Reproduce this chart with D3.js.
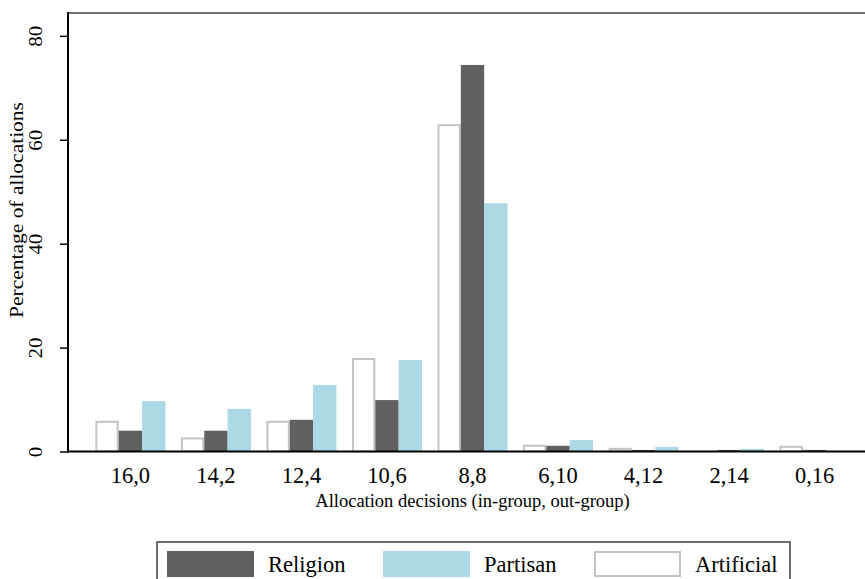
<!DOCTYPE html>
<html>
<head>
<meta charset="utf-8">
<script src="https://cdn.jsdelivr.net/npm/d3@7"></script>
<style>
  body { margin: 0; background: #fff; }
  svg { display: block; font-family: "Liberation Serif", "DejaVu Serif", serif; }
</style>
</head>
<body>
<div id="viz"></div>
<script>
// categories and series
var categories = ['16,0', '14,2', '12,4', '10,6', '8,8', '6,10', '4,12', '2,14', '0,16'];
var series = ['Artificial', 'Religion', 'Partisan'];
var artificial = [5.9, 2.7, 5.9, 18.0, 63.0, 1.3, 0.7, 0.1, 1.1];
var religion = [4.0, 4.0, 6.1, 9.9, 74.4, 1.1, 0.3, 0.3, 0.3];
var partisan = [9.7, 8.2, 12.8, 17.6, 47.8, 2.2, 0.9, 0.5, 0.0];
var yTicks = [0, 20, 40, 60, 80];
var legendOrder = ['Religion', 'Partisan', 'Artificial'];

var values = { Artificial: artificial, Religion: religion, Partisan: partisan };
var fills = { Artificial: '#ffffff', Religion: '#606060', Partisan: '#add8e6' };
var strokes = { Artificial: '#c4c4c4', Religion: 'none', Partisan: 'none' };

var width = 865, height = 579;
// plot region (right edge runs past the window, as in the picture)
var plotLeft = 68, plotRight = 877, plotTop = 13, plotBottom = 451.5;

var svg = d3.select('#viz').append('svg')
  .attr('width', width)
  .attr('height', height);

// scales
var x0 = d3.scaleBand().domain(categories).range([plotLeft, plotRight])
  .paddingInner(0.181).paddingOuter(0.32);
var x1 = d3.scaleBand().domain(series).range([0, x0.bandwidth()]);
var y = d3.scaleLinear().domain([0, 84.4]).range([plotBottom, plotTop]);

// top border of plot region
svg.append('line')
  .attr('x1', plotLeft).attr('x2', plotRight)
  .attr('y1', plotTop).attr('y2', plotTop)
  .attr('stroke', '#707070').attr('stroke-width', 2);

// bars
var groups = svg.selectAll('.group')
  .data(categories)
  .enter().append('g')
  .attr('class', 'group')
  .attr('transform', function (d) { return 'translate(' + x0(d) + ',0)'; });

groups.selectAll('rect')
  .data(function (d, i) {
    return series.map(function (s) { return { s: s, v: values[s][i] }; });
  })
  .enter().append('rect')
  .attr('x', function (d) { return x1(d.s) + (d.s == 'Artificial' ? 1 : 0); })
  .attr('width', function (d) { return x1.bandwidth() - (d.s == 'Artificial' ? 2 : 0); })
  .attr('y', function (d) { return y(d.v) + (d.s == 'Artificial' ? 1 : 0); })
  .attr('height', function (d) { return Math.max(0, plotBottom - y(d.v) - (d.s == 'Artificial' ? 1 : 0)); })
  .attr('fill', function (d) { return fills[d.s]; })
  .attr('stroke', function (d) { return strokes[d.s]; })
  .attr('stroke-width', 2);

// y axis, labels turned on their side
var yAxis = svg.append('g')
  .attr('transform', 'translate(' + plotLeft + ',0)')
  .call(d3.axisLeft(y).tickValues(yTicks).tickSize(8));
yAxis.select('.domain').remove();
yAxis.selectAll('.tick line').attr('stroke', '#000').attr('stroke-width', 1.5);
yAxis.selectAll('.tick text')
  .attr('font-size', 21)
  .attr('fill', '#000')
  .attr('font-family', '"Liberation Serif", serif')
  .attr('x', 0).attr('y', 0).attr('dy', null)
  .attr('text-anchor', 'middle')
  .attr('transform', 'translate(-26,0) rotate(-90) scale(1,0.85)');

svg.append('line')
  .attr('x1', plotLeft).attr('x2', plotLeft)
  .attr('y1', plotTop - 1).attr('y2', plotBottom + 1)
  .attr('stroke', '#000').attr('stroke-width', 2);

// x axis (labels only, no tick marks)
var xAxis = svg.append('g')
  .attr('transform', 'translate(0,' + plotBottom + ')')
  .call(d3.axisBottom(x0).tickSize(0).tickPadding(16));
xAxis.select('.domain').remove();
xAxis.selectAll('.tick text')
  .attr('font-size', 22.5)
  .attr('fill', '#000')
  .attr('font-family', '"Liberation Serif", serif');

svg.append('line')
  .attr('x1', plotLeft - 1).attr('x2', plotRight)
  .attr('y1', plotBottom).attr('y2', plotBottom)
  .attr('stroke', '#000').attr('stroke-width', 2);

// axis titles
svg.append('text')
  .attr('x', (plotLeft + plotRight) / 2).attr('y', 507)
  .attr('text-anchor', 'middle')
  .attr('font-size', 18.5)
  .text('Allocation decisions (in-group, out-group)');

svg.append('text')
  .attr('transform', 'translate(23,210) rotate(-90) scale(1,0.85)')
  .attr('text-anchor', 'middle')
  .attr('font-size', 21.5)
  .text('Percentage of allocations');

// legend
var legend = svg.append('g');
legend.append('rect')
  .attr('x', 157).attr('y', 542)
  .attr('width', 633).attr('height', 60)
  .attr('fill', '#fff')
  .attr('stroke', '#404040').attr('stroke-width', 1.5);

var legX = [167, 383, 594];
var items = legend.selectAll('.item')
  .data(legendOrder)
  .enter().append('g')
  .attr('class', 'item')
  .attr('transform', function (d, i) { return 'translate(' + legX[i] + ',551)'; });

items.append('rect')
  .attr('x', function (d) { return d == 'Artificial' ? 1 : 0; })
  .attr('y', function (d) { return d == 'Artificial' ? 1 : 0; })
  .attr('width', function (d) { return d == 'Artificial' ? 85 : 87; })
  .attr('height', function (d) { return d == 'Artificial' ? 24 : 26; })
  .attr('fill', function (d) { return fills[d]; })
  .attr('stroke', function (d) { return strokes[d]; })
  .attr('stroke-width', 2);

items.append('text')
  .attr('x', 101).attr('y', 21)
  .attr('font-size', 22.5)
  .text(function (d) { return d; });
</script>
</body>
</html>
